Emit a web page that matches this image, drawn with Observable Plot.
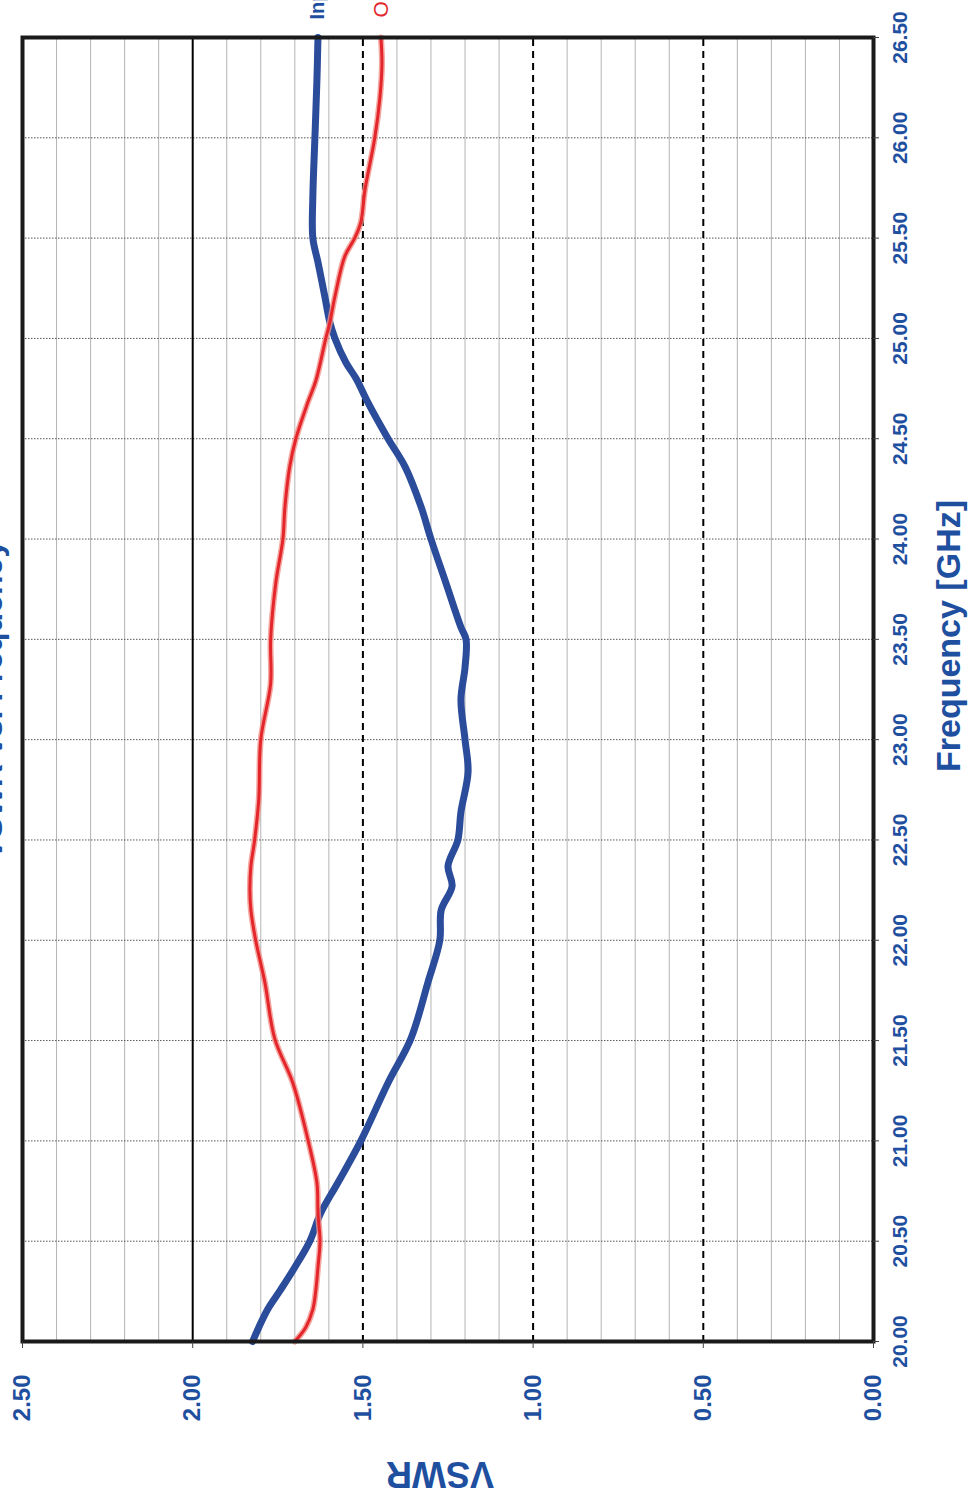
<!DOCTYPE html>
<html><head><meta charset="utf-8">
<script src="https://cdn.jsdelivr.net/npm/d3@7"></script>
<script src="https://cdn.jsdelivr.net/npm/@observablehq/plot@0.6"></script>
<style>
html,body{margin:0;padding:0;background:#fff;overflow:hidden;width:972px;height:1503px;}
#page{position:absolute;left:0;top:0;width:1503px;height:972px;transform-origin:0 0;transform:translate(0px,1503px) rotate(-90deg);}
</style></head><body><div id="page"></div>
<script>
// ---- data ----
const seriesNames = ["Input", "Output"];
const inFreq = [20.00, 20.07, 20.16, 20.26, 20.37, 20.50, 20.64, 20.79, 21.00, 21.29, 21.51, 21.79, 22.00, 22.15, 22.27, 22.37, 22.50, 22.64, 22.84, 23.00, 23.20, 23.36, 23.50, 23.56, 23.78, 24.00, 24.16, 24.36, 24.50, 24.68, 24.80, 24.88, 25.00, 25.08, 25.21, 25.38, 25.50, 25.71, 26.00, 26.29, 26.50];
const inVswr = [1.824, 1.806, 1.780, 1.741, 1.700, 1.656, 1.624, 1.574, 1.506, 1.426, 1.359, 1.309, 1.274, 1.270, 1.238, 1.250, 1.221, 1.212, 1.191, 1.200, 1.212, 1.200, 1.197, 1.212, 1.256, 1.300, 1.329, 1.376, 1.426, 1.485, 1.520, 1.550, 1.582, 1.597, 1.612, 1.632, 1.647, 1.647, 1.641, 1.635, 1.632];
const outFreq = [20.00, 20.07, 20.16, 20.26, 20.37, 20.50, 20.64, 20.79, 21.01, 21.29, 21.51, 21.79, 22.00, 22.15, 22.25, 22.37, 22.50, 22.70, 23.00, 23.28, 23.50, 23.78, 24.00, 24.16, 24.36, 24.50, 24.68, 24.79, 25.00, 25.08, 25.21, 25.41, 25.50, 25.58, 25.74, 26.00, 26.20, 26.37, 26.50];
const outVswr = [1.700, 1.668, 1.647, 1.638, 1.632, 1.626, 1.632, 1.635, 1.662, 1.706, 1.759, 1.788, 1.815, 1.829, 1.832, 1.829, 1.818, 1.806, 1.800, 1.771, 1.771, 1.756, 1.735, 1.729, 1.715, 1.697, 1.662, 1.638, 1.609, 1.597, 1.582, 1.553, 1.524, 1.506, 1.494, 1.465, 1.450, 1.444, 1.447];
const freqTicks = [20.0, 20.5, 21.0, 21.5, 22.0, 22.5, 23.0, 23.5, 24.0, 24.5, 25.0, 25.5, 26.0, 26.5];
const vswrTicks = [0.0, 0.5, 1.0, 1.5, 2.0, 2.5];
const vswrSolid = [2.0];
const vswrDashed = [0.5, 1.0, 1.5];
const vswrMinor = [0.1,0.2,0.3,0.4,0.6,0.7,0.8,0.9,1.1,1.2,1.3,1.4,1.6,1.7,1.8,1.9,2.1,2.2,2.3,2.4];
const titleText = "VSWR vs. Frequency";
const xTitle = "Frequency [GHz]";
const yTitle = "VSWR";

// ---- build ----
const inputRows = inFreq.map((f, i) => ({f, v: inVswr[i], s: seriesNames[0]}));
const outputRows = outFreq.map((f, i) => ({f, v: outVswr[i], s: seriesNames[1]}));
const blue = "#2b4c9b", red = "#e3262b", labelBlue = "#1f4f9f";
const W = 1503, H = 972;
const sans = "'Liberation Sans', Arial, Helvetica, sans-serif";
const narrow = "'Liberation Sans Narrow', 'Arial Narrow', 'Liberation Sans', Arial, sans-serif";

const chart = Plot.plot({
  width: W, height: H,
  marginLeft: 161, marginRight: 38, marginTop: 22, marginBottom: 99,
  style: {background: "#fff", fontFamily: sans, overflow: "hidden"},
  x: {domain: [20, 26.5]},
  y: {domain: [0, 2.5]},
  marks: [
    Plot.ruleY(vswrMinor, {stroke: "#b4b4b4", strokeWidth: 1}),
    Plot.ruleX(freqTicks, {stroke: "#555", strokeWidth: 1, strokeDasharray: "1.5,1.5"}),
    Plot.ruleY(vswrSolid, {stroke: "#000", strokeWidth: 2}),
    Plot.ruleY(vswrDashed, {stroke: "#000", strokeWidth: 2, strokeDasharray: "7,5"}),
    Plot.line(inputRows, {x: "f", y: "v", stroke: blue, strokeWidth: 7, curve: "catmull-rom"}),
    Plot.line(outputRows, {x: "f", y: "v", stroke: "#f39088", strokeOpacity: 0.8, strokeWidth: 6, curve: "catmull-rom"}),
    Plot.line(outputRows, {x: "f", y: "v", stroke: red, strokeWidth: 3, curve: "catmull-rom"}),
    Plot.frame({stroke: "#1a1a1a", strokeWidth: 4}),
    Plot.axisX({ticks: freqTicks, tickFormat: d3.format(".2f"), tickSize: 6, tickPadding: 13, label: null,
      stroke: "#444", fill: labelBlue, fontSize: 21, fontWeight: "bold", fontFamily: narrow}),
    Plot.axisY({ticks: vswrTicks, tickFormat: d3.format(".2f"), tickSize: 6, tickPadding: 27, label: null,
      stroke: "#444", fill: labelBlue, fontSize: 24, fontWeight: "bold", fontFamily: sans}),
    Plot.text([inputRows[inputRows.length - 1]], {x: "f", y: "v", text: "s", dx: 18, textAnchor: "start", fill: labelBlue, fontSize: 20, fontWeight: "bold"}),
    Plot.text([outputRows[outputRows.length - 1]], {x: "f", y: "v", text: "s", dx: 20, textAnchor: "start", fill: red, fontSize: 21})
  ]
});

const svg = d3.select(chart);
svg.append("text").attr("x", 867).attr("y", 960).attr("text-anchor", "middle")
  .attr("fill", labelBlue).attr("font-size", 34).attr("font-weight", "bold").attr("font-family", sans).text(xTitle);
svg.append("text").attr("transform", "translate(41,440) rotate(-90)").attr("text-anchor", "middle")
  .attr("fill", labelBlue).attr("font-size", 36).attr("font-weight", "bold").attr("font-family", sans).text(yTitle);
svg.append("text").attr("x", 803).attr("y", 2).attr("text-anchor", "middle")
  .attr("fill", labelBlue).attr("font-size", 32).attr("font-weight", "bold").attr("font-family", sans).text(titleText);

document.getElementById("page").appendChild(chart);
</script>
</body></html>
